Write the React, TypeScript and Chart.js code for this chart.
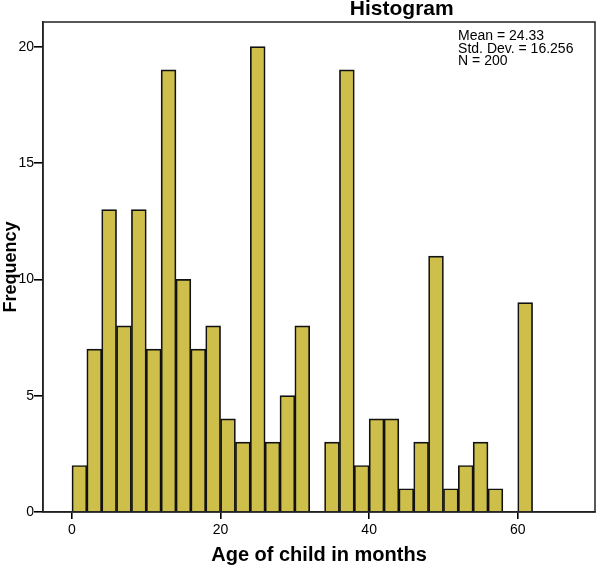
import React, { useEffect, useRef } from "react";
import { Chart, registerables } from "chart.js";

Chart.register(...registerables);

const binStarts = [0, 2, 4, 6, 8, 10, 12, 14, 16, 18, 20, 22, 24, 26, 28, 30, 32, 34, 36, 38, 40, 42, 44, 46, 48, 50, 52, 54, 56, 58, 60];
const counts = [2, 7, 13, 8, 13, 7, 19, 10, 7, 8, 4, 3, 20, 3, 5, 8, 0, 3, 19, 2, 4, 4, 1, 3, 11, 1, 2, 3, 1, 0, 9];
const binWidth = 2;
const xTicks = [0, 20, 40, 60];
const yTicks = [0, 5, 10, 15, 20];
const statsLines = ["Mean = 24.33", "Std. Dev. = 16.256", "N = 200"];
const chartTitle = "Histogram";
const xTitle = "Age of child in months";
const yTitle = "Frequency";

const FONT = '"Liberation Sans", Arial, Helvetica, sans-serif';

export default function App() {
  const ref = useRef<HTMLCanvasElement | null>(null);

  useEffect(() => {
    document.body.style.margin = "0";
    const canvas = ref.current;
    if (!canvas) return;

    const framePlugin = {
      id: "frameAndText",
      afterDraw(chart: any) {
        const { ctx, chartArea } = chart;
        const { left, right, top, bottom } = chartArea;
        ctx.save();
        ctx.strokeStyle = "#222";
        ctx.lineWidth = 1.5;
        ctx.strokeRect(left, top, right - left, bottom - top);

        // title
        ctx.fillStyle = "#000";
        ctx.font = `bold 21px ${FONT}`;
        ctx.textAlign = "center";
        ctx.textBaseline = "alphabetic";
        ctx.fillText(chartTitle, left + (right - left) * 0.65, top - 7);

        // stats box
        ctx.font = `14px ${FONT}`;
        ctx.textAlign = "left";
        const sx = left + (right - left) * 0.752;
        statsLines.forEach((line, i) => {
          ctx.fillText(line, sx, top + 18 + i * 12.5);
        });
        ctx.restore();
      },
    };

    const chart = new Chart(canvas, {
      type: "bar",
      data: {
        datasets: [
          {
            label: "Frequency",
            data: binStarts.map((s, i) => ({ x: s + binWidth / 2, y: counts[i] })),
            backgroundColor: "#CEBF4B",
            borderColor: "#111",
            borderWidth: 1.7,
            barPercentage: 1,
            categoryPercentage: 1,
          },
        ],
      },
      options: {
        animation: false,
        responsive: false,
        maintainAspectRatio: false,
        layout: { padding: { top: 22, right: 19, left: 0, bottom: 0 } },
        plugins: {
          legend: { display: false },
          tooltip: { enabled: false },
          title: { display: false },
        },
        scales: {
          x: {
            type: "linear",
            min: -3.9,
            max: 70.4,
            offset: false,
            afterBuildTicks: (s: any) => {
              s.ticks = xTicks.map((v) => ({ value: v }));
            },
            afterFit: (s: any) => {
              s.height = 55;
            },
            ticks: {
              color: "#000",
              font: { family: FONT, size: 14 },
              padding: 3,
              maxRotation: 0,
              autoSkip: false,
            },
            grid: {
              offset: false,
              drawOnChartArea: false,
              drawTicks: true,
              tickLength: 7,
              color: "#000",
              lineWidth: 1.6,
            },
            border: { display: true, color: "#222", width: 1.5 },
            title: {
              display: true,
              text: xTitle,
              color: "#000",
              font: { family: FONT, size: 20, weight: "bold" },
              padding: { top: 0, bottom: 0 },
            },
          },
          y: {
            type: "linear",
            min: 0,
            max: 21.06,
            afterBuildTicks: (s: any) => {
              s.ticks = yTicks.map((v) => ({ value: v }));
            },
            afterFit: (s: any) => {
              s.width = 43;
            },
            ticks: {
              color: "#000",
              font: { family: FONT, size: 14 },
              padding: 0,
              autoSkip: false,
            },
            grid: {
              offset: false,
              drawOnChartArea: false,
              drawTicks: true,
              tickLength: 9,
              color: "#000",
              lineWidth: 1.6,
            },
            border: { display: true, color: "#222", width: 1.5 },
            title: {
              display: true,
              text: yTitle,
              color: "#000",
              font: { family: FONT, size: 18, weight: "bold" },
              padding: { top: 0, bottom: 0 },
            },
          },
        },
      },
      plugins: [framePlugin],
    });

    return () => {
      chart.destroy();
    };
  }, []);

  return (
    <div style={{ width: 614, height: 567, background: "#fff" }}>
      <canvas ref={ref} width={614} height={567} style={{ display: "block" }} />
    </div>
  );
}
